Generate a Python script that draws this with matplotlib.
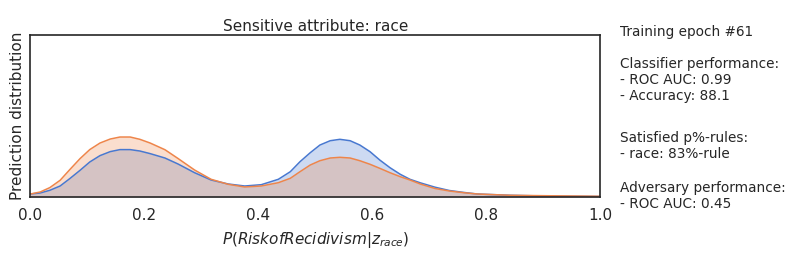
import numpy as np
import seaborn as sns
from matplotlib import pyplot as plt

# density curves (x = predicted probability)
x_grid = [0.0, 0.017, 0.034, 0.052, 0.069, 0.087, 0.104, 0.122, 0.140, 0.157,
          0.175, 0.192, 0.210, 0.236, 0.259, 0.288, 0.317, 0.347, 0.376, 0.405,
          0.435, 0.456, 0.473, 0.491, 0.508, 0.526, 0.543, 0.561, 0.578, 0.596,
          0.613, 0.631, 0.649, 0.666, 0.684, 0.710, 0.735, 0.760, 0.784, 0.842,
          0.900, 0.950, 1.0]
dens_blue = [0.15, 0.2, 0.335, 0.55, 0.92, 1.335, 1.75, 2.07, 2.27, 2.37,
             2.37, 2.3, 2.17, 1.95, 1.65, 1.215, 0.85, 0.65, 0.55, 0.615,
             0.885, 1.265, 1.765, 2.215, 2.6, 2.815, 2.885, 2.815, 2.6, 2.265,
             1.85, 1.465, 1.135, 0.885, 0.71, 0.49, 0.325, 0.23, 0.15, 0.085,
             0.05, 0.035, 0.025]
dens_orange = [0.15, 0.25, 0.47, 0.835, 1.37, 1.92, 2.37, 2.7, 2.9, 3.0,
               3.0, 2.885, 2.7, 2.365, 1.925, 1.35, 0.885, 0.635, 0.5, 0.55,
               0.715, 0.935, 1.265, 1.6, 1.815, 1.95, 1.985, 1.95, 1.815, 1.635,
               1.435, 1.215, 1.015, 0.85, 0.65, 0.425, 0.3, 0.215, 0.15, 0.085,
               0.065, 0.05, 0.035]

epoch = 61
clf_roc_auc = 0.99
clf_accuracy = 88.1
p_rule_race = 83
adv_roc_auc = 0.45

sns.set_style('white')
plt.rcParams['font.family'] = ['DejaVu Sans']

fig = plt.figure(figsize=(7.94, 2.57), dpi=100)
ax = fig.add_axes([0.0384, 0.2335, 0.7176, 0.630])

palette = sns.color_palette('muted')
blue = palette[0]
orange = palette[1]

ax.fill_between(x_grid, dens_blue, color=blue, alpha=0.27, lw=0)
ax.plot(x_grid, dens_blue, color=blue, lw=1.1, solid_joinstyle='round')
ax.fill_between(x_grid, dens_orange, color=orange, alpha=0.27, lw=0)
ax.plot(x_grid, dens_orange, color=orange, lw=1.1, solid_joinstyle='round')

ax.set_xlim(0, 1)
ax.set_ylim(0, 8.1)
ax.set_yticks([])
ax.set_xticks(np.arange(0, 1.01, 0.2))
ax.tick_params(axis='x', labelsize=11, length=0, pad=8, labelcolor='.15')
ax.set_title('Sensitive attribute: race', fontsize=11, pad=3, color='.15')
ax.set_ylabel('Prediction distribution', fontsize=11, labelpad=4, color='.15')
ax.set_xlabel('$P({Risk of Recidivism}|z_{race})$', fontsize=11, labelpad=5, color='.15')
for sp in ax.spines.values():
    sp.set_color('.15')
    sp.set_linewidth(1.2)

txt_kw = dict(transform=ax.transAxes, fontsize=9.8, color='.15', va='top', linespacing=1.18)
ax.text(1.035, 1.06, 'Training epoch #%d' % epoch, **txt_kw)
ax.text(1.035, 0.865, 'Classifier performance:\n- ROC AUC: %.2f\n- Accuracy: %.1f'
        % (clf_roc_auc, clf_accuracy), **txt_kw)
ax.text(1.035, 0.41, 'Satisfied p%%-rules:\n- race: %d%%-rule' % p_rule_race, **txt_kw)
ax.text(1.035, 0.10, 'Adversary performance:\n- ROC AUC: %.2f' % adv_roc_auc, **txt_kw)

fig.savefig('out.png', dpi=100)
